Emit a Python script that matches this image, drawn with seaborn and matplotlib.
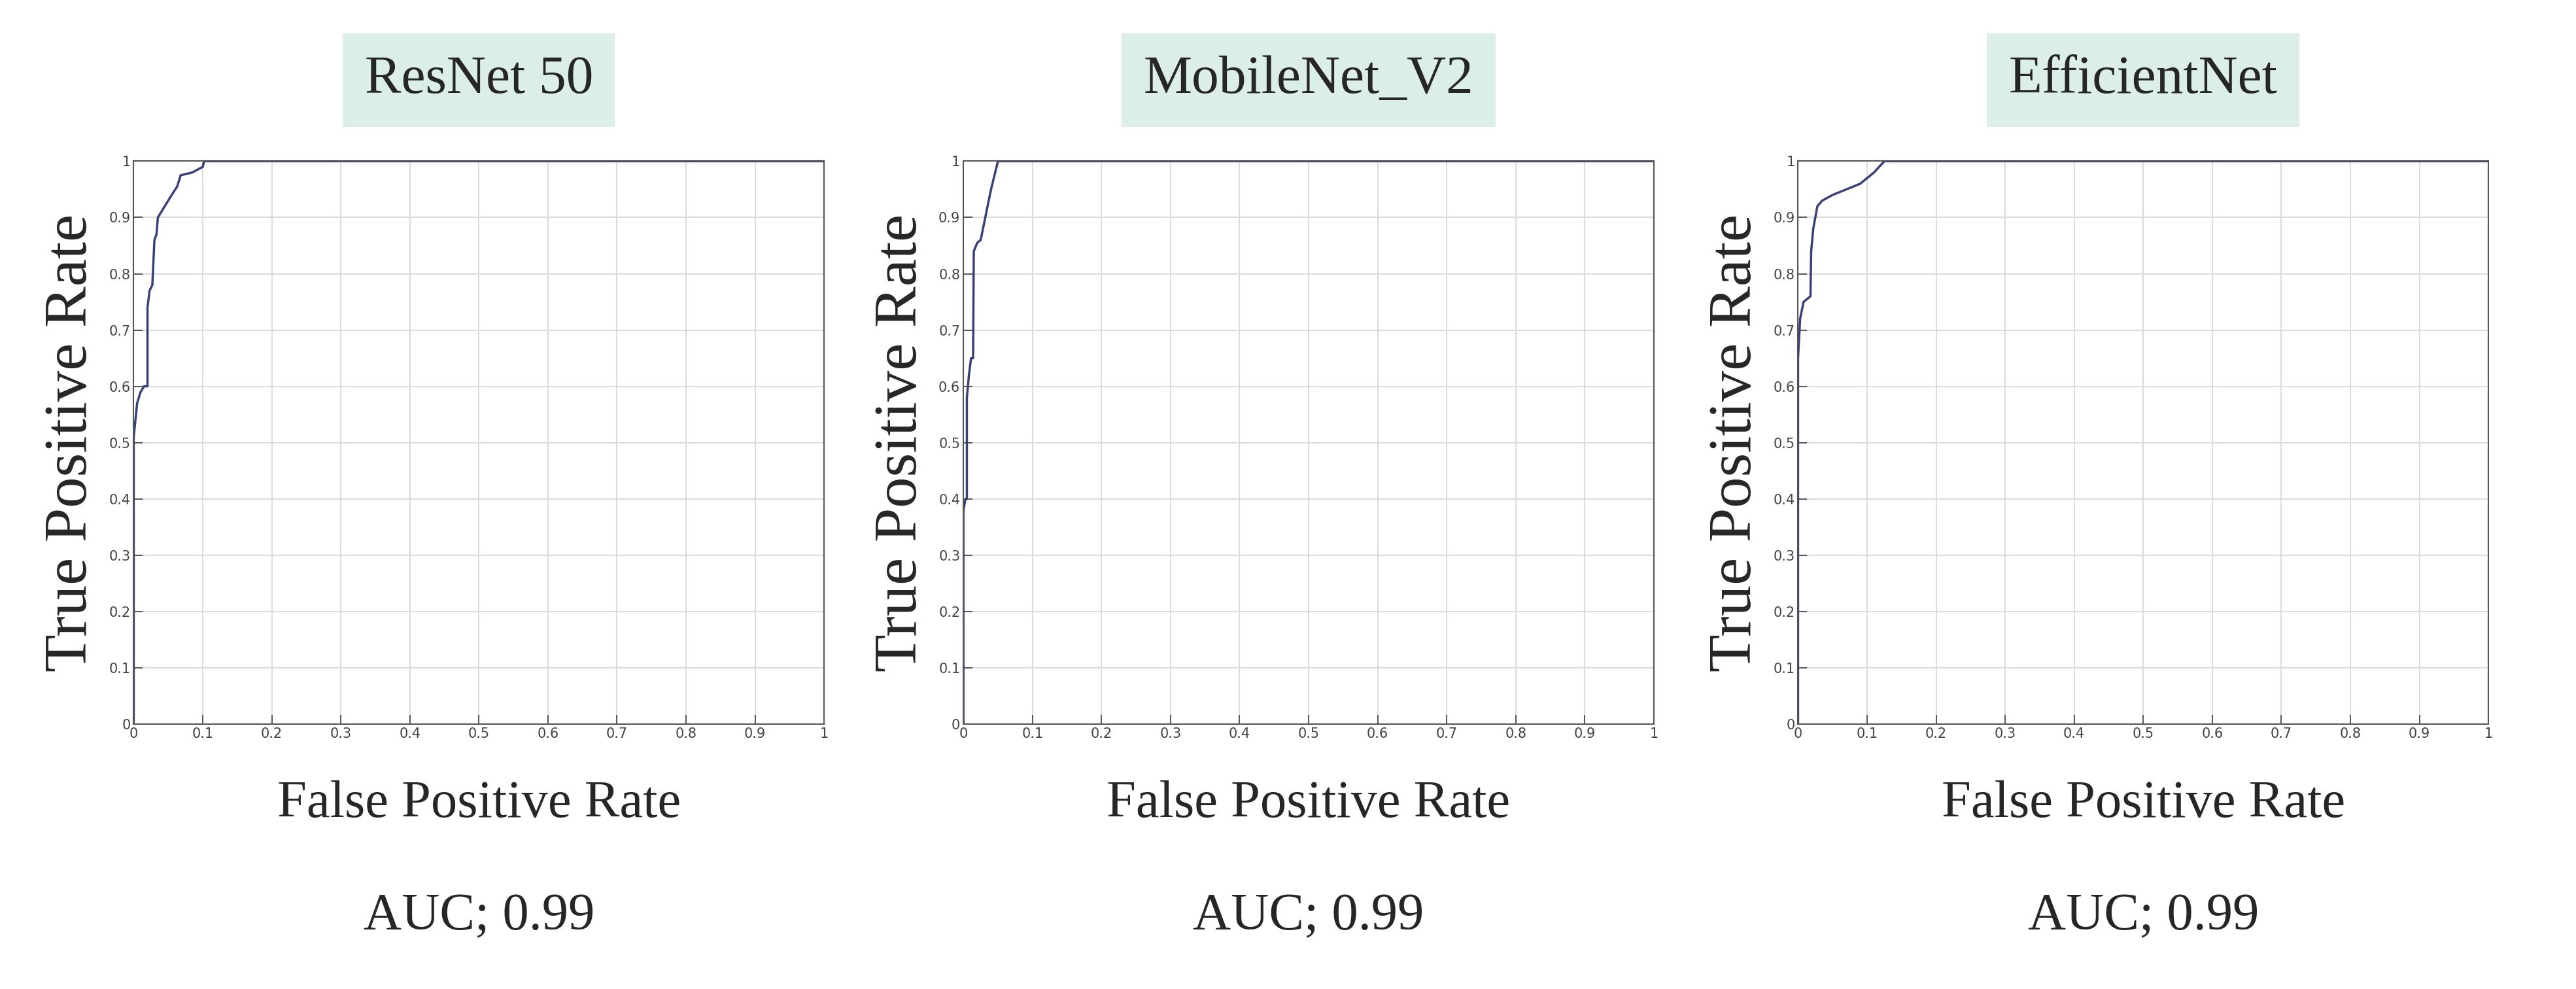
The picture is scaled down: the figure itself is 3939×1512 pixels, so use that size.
import matplotlib
matplotlib.use("Agg")
import matplotlib.pyplot as plt
import seaborn as sns

MODELS = ["ResNet 50", "MobileNet_V2", "EfficientNet"]
AUC_TEXT = ["AUC; 0.99", "AUC; 0.99", "AUC; 0.99"]

RESNET_FPR = [0, 0, 0.005, 0.01, 0.015, 0.02, 0.02, 0.023, 0.027, 0.03, 0.033, 0.035, 0.04,
              0.045, 0.055, 0.063, 0.068, 0.085, 0.1, 0.102, 0.12, 1.0]
RESNET_TPR = [0, 0.51, 0.57, 0.59, 0.6, 0.6, 0.74, 0.77, 0.78, 0.86, 0.87, 0.9, 0.91,
              0.92, 0.94, 0.955, 0.975, 0.98, 0.99, 1.0, 1.0, 1.0]

MOBILE_FPR = [0, 0, 0.003, 0.005, 0.005, 0.008, 0.011, 0.014, 0.015, 0.02, 0.025, 0.03,
              0.035, 0.04, 0.05, 1.0]
MOBILE_TPR = [0, 0.38, 0.4, 0.4, 0.58, 0.62, 0.65, 0.65, 0.84, 0.855, 0.86, 0.89,
              0.92, 0.95, 1.0, 1.0]

EFFNET_FPR = [0, 0, 0.003, 0.008, 0.018, 0.019, 0.022, 0.025, 0.028, 0.035, 0.05, 0.07,
              0.09, 0.11, 0.125, 1.0]
EFFNET_TPR = [0, 0.65, 0.72, 0.75, 0.76, 0.84, 0.88, 0.9, 0.92, 0.93, 0.94, 0.95,
              0.96, 0.98, 1.0, 1.0]

CURVES = [(RESNET_FPR, RESNET_TPR), (MOBILE_FPR, MOBILE_TPR), (EFFNET_FPR, EFFNET_TPR)]
TICKS = [0, 0.1, 0.2, 0.3, 0.4, 0.5, 0.6, 0.7, 0.8, 0.9, 1]
TICK_LABELS = ["0", "0.1", "0.2", "0.3", "0.4", "0.5", "0.6", "0.7", "0.8", "0.9", "1"]

sns.set_theme(style="white")
SERIF = "Liberation Serif"

fig = plt.figure(figsize=(39.39, 15.12), dpi=100)
# axes placement as figure fractions
lefts = [0.0519, 0.374, 0.698]
width, bottom, height = 0.268, 0.268, 0.569
for left, name, auc, (fpr, tpr) in zip(lefts, MODELS, AUC_TEXT, CURVES):
    ax = fig.add_axes([left, bottom, width, height])
    sns.lineplot(x=fpr, y=tpr, ax=ax, sort=False, estimator=None, color="#3b3f78", lw=2.5)
    ax.set_xlim(0, 1)
    ax.set_ylim(0, 1)
    ax.set_xticks(TICKS)
    ax.set_xticklabels(TICK_LABELS)
    ax.set_yticks(TICKS)
    ax.set_yticklabels(TICK_LABELS)
    ax.grid(True, color="#dcdcdc", lw=1.5)
    ax.tick_params(direction="in", length=10, labelsize=15, colors="#444444", left=True, bottom=True)
    for s in ax.spines.values():
        s.set_color("#555555")
        s.set_linewidth(1.5)
    ax.set_ylabel("True Positive Rate", fontsize=68, family=SERIF, labelpad=10)
    ax.set_xlabel("")
    cx = left + width / 2
    fig.text(cx, 0.187, "False Positive Rate", fontsize=58, family=SERIF,
             ha="center", va="center")
    fig.text(cx, 0.073, auc, fontsize=58, family=SERIF, ha="center", va="center")
    fig.text(cx, 0.919, name, fontsize=60, family=SERIF, ha="center", va="center",
             bbox=dict(boxstyle="square,pad=0.4", facecolor="#dbefe6", edgecolor="none"))

fig.savefig("out.png", dpi=100)
